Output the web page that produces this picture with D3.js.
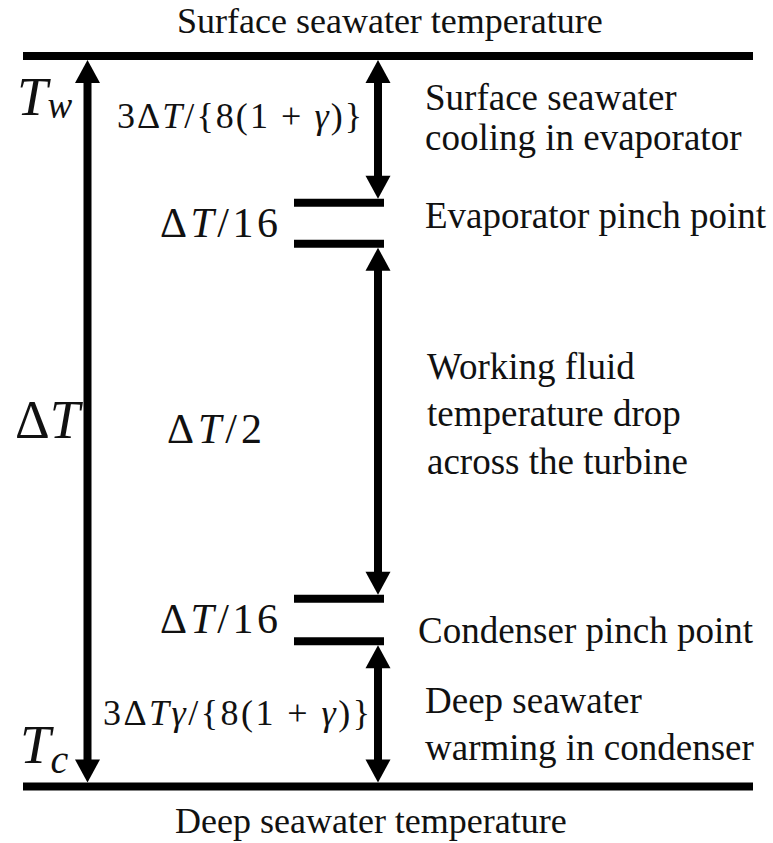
<!DOCTYPE html>
<html>
<head>
<meta charset="utf-8">
<script src="https://cdn.jsdelivr.net/npm/d3@7"></script>
<style>
  body { margin: 0; background: #fff; }
  svg text { font-family: "Liberation Serif", "Times New Roman", serif; fill: #111; }
</style>
</head>
<body>
<script>
// temperature levels, as a fraction of ΔT below the surface seawater temperature
const levels = [0, 0.201, 0.257, 0.743, 0.801, 1];
// the pinch points are the gaps between levels 1-2 and 3-4
const pinches = [[1, 2], [3, 4]];
// double arrows on the right span these level pairs
const spans = [[0, 1], [2, 3], [4, 5]];

// math labels: [text, italic]
const spanLabels = [
  [["3Δ", 0], ["T", 1], ["/{8(1 + ", 0], ["γ", 1], [")}", 0]],
  [["Δ", 0], ["T", 1], ["/2", 0]],
  [["3Δ", 0], ["T", 1], ["γ", 1], ["/{8(1 + ", 0], ["γ", 1], [")}", 0]]
];
const pinchLabel = [["Δ", 0], ["T", 1], ["/16", 0]];

const descriptions = [
  ["Surface seawater", "cooling in evaporator"],
  ["Evaporator pinch point"],
  ["Working fluid", "temperature drop", "across the turbine"],
  ["Condenser pinch point"],
  ["Deep seawater", "warming in condenser"]
];
const boundaryTitles = ["Surface seawater temperature", "Deep seawater temperature"];

const w = 773, h = 843;
const lineW = 8, shaftW = 8, headW = 25, headL = 23;
const xLeft = 87.5, xRight = 378;

const svg = d3.select("body").append("svg")
  .attr("width", w)
  .attr("height", h);

const y = d3.scaleLinear().domain([0, 1]).range([56, 786.5]);

// boundary lines
svg.selectAll("line.bound").data([levels[0], levels[5]]).enter().append("line")
  .attr("class", "bound")
  .attr("x1", 23).attr("x2", 753)
  .attr("y1", d => y(d)).attr("y2", d => y(d))
  .attr("stroke", "#000").attr("stroke-width", lineW);

// pinch point lines
svg.selectAll("line.pinch").data(pinches.flat()).enter().append("line")
  .attr("class", "pinch")
  .attr("x1", 294).attr("x2", 384)
  .attr("y1", i => y(levels[i])).attr("y2", i => y(levels[i]))
  .attr("stroke", "#000").attr("stroke-width", lineW);

function doubleArrow(x, yTop, yBot) {
  const g = svg.append("g");
  g.append("line")
    .attr("x1", x).attr("x2", x)
    .attr("y1", yTop + headL - 1).attr("y2", yBot - headL + 1)
    .attr("stroke", "#000").attr("stroke-width", shaftW);
  g.append("path")
    .attr("d", `M${x},${yTop}L${x - headW / 2},${yTop + headL}L${x + headW / 2},${yTop + headL}Z`)
    .attr("fill", "#000");
  g.append("path")
    .attr("d", `M${x},${yBot}L${x - headW / 2},${yBot - headL}L${x + headW / 2},${yBot - headL}Z`)
    .attr("fill", "#000");
}

doubleArrow(xLeft, y(levels[0]) + lineW / 2, y(levels[5]) - lineW / 2);
spans.forEach(s => doubleArrow(xRight, y(levels[s[0]]) + lineW / 2, y(levels[s[1]]) - lineW / 2));

// math text, stretched to the width that the wider math font takes
function mathText(parts, x, yb, size, len) {
  const t = svg.append("text")
    .attr("x", x).attr("y", yb)
    .style("font-size", size + "px");
  if (len) t.attr("textLength", len).attr("lengthAdjust", "spacing");
  parts.forEach(p => {
    t.append("tspan").text(p[0]).style("font-style", p[1] ? "italic" : "normal");
  });
  return t;
}

mathText(spanLabels[0], 117, 128, 36, 245);
mathText(spanLabels[1], 167, 443, 42, 95);
mathText(spanLabels[2], 103, 725, 36, 267);
mathText(pinchLabel, 160, 237, 42, 118);
mathText(pinchLabel, 160, 633, 42, 118);

// T_w, ΔT, T_c on the left
const tw = mathText([["T", 1]], 17, 115, 55);
tw.append("tspan").text("w").style("font-style", "italic").style("font-size", "37px").attr("dy", 3);
mathText([["Δ", 0], ["T", 1]], 15, 438, 54);
const tc = mathText([["T", 1]], 20, 763, 55);
tc.append("tspan").text("c").style("font-style", "italic").style("font-size", "40px").attr("dy", 10);

// descriptions on the right
const descPos = [
  { x: 425, ys: [110, 150] },
  { x: 425, ys: [228] },
  { x: 427, ys: [379, 426, 474] },
  { x: 418, ys: [643] },
  { x: 425, ys: [713, 760] }
];
descriptions.forEach((lines, i) => {
  lines.forEach((s, j) => {
    svg.append("text")
      .attr("x", descPos[i].x).attr("y", descPos[i].ys[j])
      .style("font-size", "37px")
      .text(s);
  });
});

// titles
svg.selectAll("text.title").data(boundaryTitles).enter().append("text")
  .attr("class", "title")
  .attr("x", (d, i) => i === 0 ? 177 : 175)
  .attr("y", (d, i) => i === 0 ? 33 : 833)
  .style("font-size", "36px")
  .text(d => d);
</script>
</body>
</html>
